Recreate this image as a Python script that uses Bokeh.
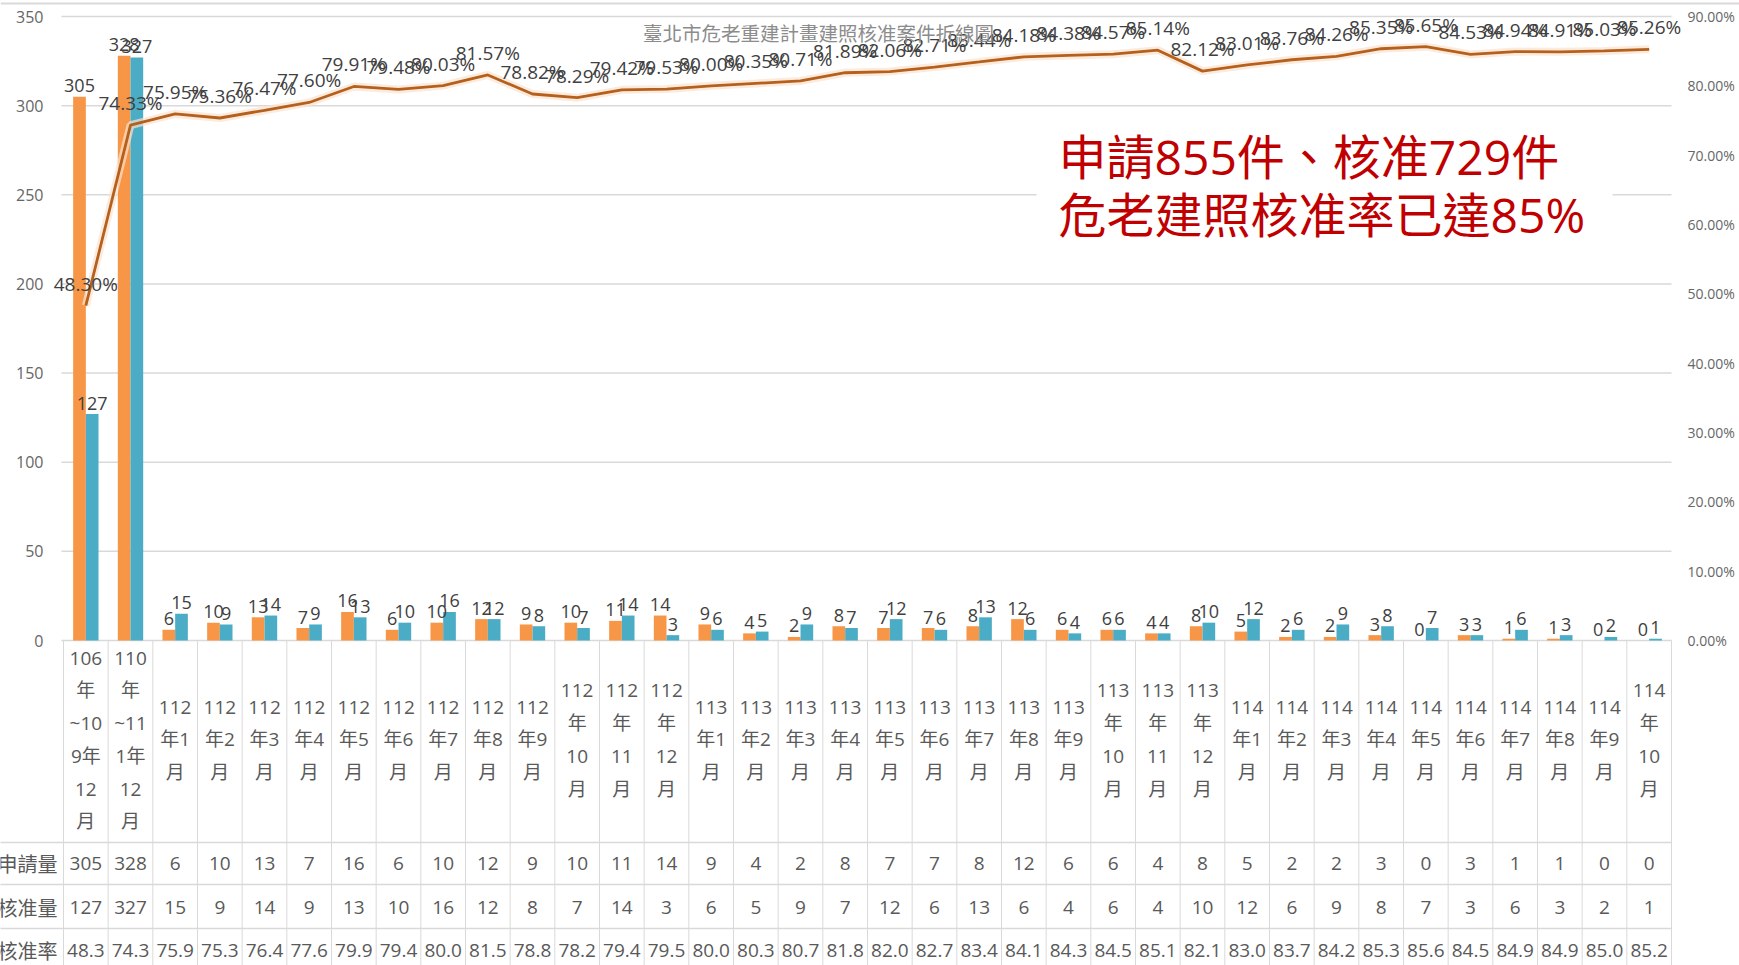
from bokeh.plotting import figure
from bokeh.models import Range1d, LinearAxis, FixedTicker, Label, BoxAnnotation, PrintfTickFormatter
from bokeh.embed import file_html
from bokeh.resources import INLINE
from bokeh.core.properties import value

# ---------------- data ----------------
categories = [
    "106\n年\n~10\n9年\n12\n月", "110\n年\n~11\n1年\n12\n月",
    "112\n年1\n月", "112\n年2\n月", "112\n年3\n月", "112\n年4\n月", "112\n年5\n月", "112\n年6\n月",
    "112\n年7\n月", "112\n年8\n月", "112\n年9\n月", "112\n年\n10\n月", "112\n年\n11\n月", "112\n年\n12\n月",
    "113\n年1\n月", "113\n年2\n月", "113\n年3\n月", "113\n年4\n月", "113\n年5\n月", "113\n年6\n月",
    "113\n年7\n月", "113\n年8\n月", "113\n年9\n月", "113\n年\n10\n月", "113\n年\n11\n月", "113\n年\n12\n月",
    "114\n年1\n月", "114\n年2\n月", "114\n年3\n月", "114\n年4\n月", "114\n年5\n月", "114\n年6\n月",
    "114\n年7\n月", "114\n年8\n月", "114\n年9\n月", "114\n年\n10\n月",
]
applications = [305, 328, 6, 10, 13, 7, 16, 6, 10, 12, 9, 10, 11, 14,
                9, 4, 2, 8, 7, 7, 8, 12, 6, 6, 4, 8,
                5, 2, 2, 3, 0, 3, 1, 1, 0, 0]
approvals = [127, 327, 15, 9, 14, 9, 13, 10, 16, 12, 8, 7, 14, 3,
             6, 5, 9, 7, 12, 6, 13, 6, 4, 6, 4, 10,
             12, 6, 9, 8, 7, 3, 6, 3, 2, 1]
rates = [48.30, 74.33, 75.95, 75.36, 76.47, 77.60, 79.91, 79.48, 80.03, 81.57, 78.82, 78.29, 79.42, 79.53,
         80.00, 80.35, 80.71, 81.89, 82.06, 82.71, 83.44, 84.18, 84.38, 84.57, 85.14, 82.12,
         83.01, 83.76, 84.26, 85.35, 85.65, 84.53, 84.94, 84.91, 85.03, 85.26]
row_headers = ["申請量", "核准量", "核准率"]
left_ticks = [0, 50, 100, 150, 200, 250, 300, 350]
right_ticks = [0, 10, 20, 30, 40, 50, 60, 70, 80, 90]
title_text = "臺北市危老重建計畫建照核准案件折線圖"
note_lines = ["申請855件、核准729件", "危老建照核准率已達85%"]

n = len(categories)
xs = list(range(n))
rate_txt = ["%.1f" % ((int(round(r * 100)) // 10) / 10) for r in rates]

# ---------------- layout helpers (pixel layout -> data space) ----------------
W, H = 1739, 965
TABLE_RIGHT = 1671          # right edge of plot area / table
X0 = 63                     # left edge of first category column
UNIT = (TABLE_RIGHT - X0) / n
Y0, Y350 = 640, 16          # pixel rows of 0 and 350 on the left axis
PXL = (Y0 - Y350) / 350.0   # px per count
PXR = (Y0 - Y350) / 90.0    # px per percent


def xd(px):
    return (px - X0) / UNIT - 0.5


def yd(py):
    return (Y0 - py) / PXL


FONT = "Open Sans, Noto Sans CJK TC"
CJK = "Noto Sans CJK TC"
ORANGE = "#F79646"
BLUE = "#4BACC6"
GRID = "#D9D9D9"
TXT = "#595959"

p = figure(width=W, height=H,
           x_range=Range1d(xd(0), xd(W)),
           y_range=Range1d(yd(H), yd(0)),
           output_backend="svg", toolbar_location=None,
           x_axis_location=None, y_axis_location="left",
           min_border_left=0, min_border_right=0, min_border_top=0, min_border_bottom=0)
p.outline_line_color = None
p.grid.visible = False

# left axis, pinned at the left edge of the category area
p.yaxis.fixed_location = -0.5
p.yaxis.ticker = FixedTicker(ticks=left_ticks)
p.yaxis.axis_line_color = None
p.yaxis.major_tick_line_color = None
p.yaxis.minor_tick_line_color = None
p.yaxis.major_label_standoff = 14
p.yaxis.major_label_text_font = "Open Sans"
p.yaxis.major_label_text_font_size = "16px"
p.yaxis.major_label_text_color = "#666666"

# right axis (approval rate), pinned at the right edge of the category area
p.extra_y_ranges = {"rate": Range1d((Y0 - H) / PXR, Y0 / PXR)}
ax = LinearAxis(y_range_name="rate", ticker=FixedTicker(ticks=right_ticks),
                formatter=PrintfTickFormatter(format="%.2f%%"), fixed_location=n - 0.5)
ax.axis_line_color = None
ax.major_tick_line_color = None
ax.minor_tick_line_color = None
ax.major_label_standoff = 10
ax.major_label_text_font = "Open Sans"
ax.major_label_text_font_size = "14px"
ax.major_label_text_color = "#666666"
p.add_layout(ax, "right")

# chart border line at top
p.segment(x0=[xd(0)], y0=[yd(3)], x1=[xd(W)], y1=[yd(3)], line_color=GRID, line_width=2)

# horizontal gridlines (only over the category area)
p.segment(x0=[xd(61)] * len(left_ticks), y0=left_ticks, x1=[n - 0.5] * len(left_ticks), y1=left_ticks,
          line_color=GRID, line_width=1.5)

# table grid
bounds = [i - 0.5 for i in range(n + 1)]
p.segment(x0=bounds, y0=[0] * len(bounds), x1=bounds, y1=[yd(H + 10)] * len(bounds),
          line_color=GRID, line_width=1)
sep_y = [yd(842), yd(884), yd(928)]
p.segment(x0=[xd(-5)] * 3, y0=sep_y, x1=[n - 0.5] * 3, y1=sep_y, line_color=GRID, line_width=1.5)

# bars
off = 0.142
bw = 0.284
p.vbar(x=[x - off for x in xs], top=applications, width=bw, fill_color=ORANGE, line_color=None)
p.vbar(x=[x + off for x in xs], top=approvals, width=bw, fill_color=BLUE, line_color=None)

p.text(x=[x - off for x in xs], y=applications, text=[str(v) for v in applications],
       text_align="center", text_baseline="alphabetic", y_offset=-11,
       text_font=value("Open Sans"), text_font_size="18px", text_color="#404040")
p.text(x=[x + off for x in xs], y=approvals, text=[str(v) for v in approvals],
       text_align="center", text_baseline="alphabetic", y_offset=-11,
       text_font=value("Open Sans"), text_font_size="18px", text_color="#404040")

# approval-rate line
p.line(xs, rates, y_range_name="rate", line_color="#FBE2CF", line_width=8, line_alpha=0.7)
p.line(xs, rates, y_range_name="rate", line_color="#B5601C", line_width=2.8)
p.text(x=xs, y=rates, text=["%.2f%%" % r for r in rates], y_range_name="rate",
       text_align="center", text_baseline="middle", y_offset=-22,
       text_font=value("Open Sans"), text_font_size="19px", text_color="#404040")

# chart title
p.add_layout(Label(x=xd(818), y=yd(32), text=title_text, text_align="center", text_baseline="middle",
                   text_font=CJK, text_font_size="19.5px", text_color="#8C8C8C"))

# red callout on a white box
p.add_layout(BoxAnnotation(left=xd(1036), right=xd(1612), bottom=yd(250), top=yd(125),
                           fill_color="white", fill_alpha=1.0, line_color=None))
p.add_layout(Label(x=xd(1058), y=yd(156), text=note_lines[0], text_align="left", text_baseline="middle",
                   text_font=FONT, text_font_size="48px", text_color="#C00000"))
p.add_layout(Label(x=xd(1058), y=yd(214), text=note_lines[1], text_align="left", text_baseline="middle",
                   text_font=FONT, text_font_size="48px", text_color="#C00000"))

# data table under the chart
p.text(x=xs, y=[yd(739)] * n, text=categories, text_align="center", text_baseline="middle",
       text_line_height=1.26, text_font=value(FONT), text_font_size="19px", text_color=TXT)
row_y = [yd(863), yd(907), yd(950)]
for yy, vals in zip(row_y, [[str(v) for v in applications], [str(v) for v in approvals], rate_txt]):
    p.text(x=xs, y=[yy] * n, text=vals, text_align="center", text_baseline="middle",
           text_font=value("Open Sans"), text_font_size="19px", text_color=TXT)
p.text(x=[xd(57)] * 3, y=row_y, text=row_headers, text_align="right", text_baseline="middle",
       text_font=value(CJK), text_font_size="20px", text_color=TXT)

open("out.html", "w").write(file_html(p, INLINE))
